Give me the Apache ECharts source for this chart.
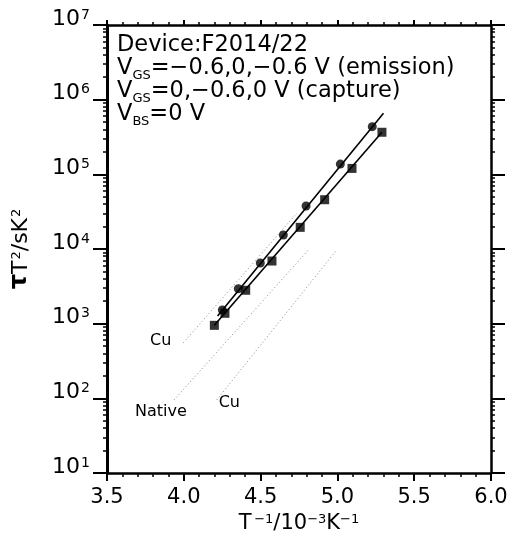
<!DOCTYPE html>
<html>
<head>
<meta charset="utf-8">
<script src="https://cdn.jsdelivr.net/npm/echarts@6/dist/echarts.min.js"></script>
<style>
  html, body { margin: 0; padding: 0; background: #fff; }
  #chart { width: 519px; height: 535px; }
</style>
</head>
<body>
<div id="chart"></div>
<script>
// Emission time constants (circles) and capture (squares), tau*T^2 vs 1/T
const emitX = [4.251, 4.355, 4.498, 4.648, 4.796, 5.019, 5.227];
const emitY = [1525, 2940, 6500, 15400, 37700, 137000, 435000];
const captX = [4.199, 4.268, 4.403, 4.574, 4.758, 4.917, 5.095, 5.290];
const captY = [950, 1377, 2800, 6900, 19500, 45700, 120000, 366000];

// Arrhenius fit lines through each set
const emitFitX = [4.22, 5.30];
const emitFitY = [1270, 660000];
const captFitX = [4.199, 5.29];
const captFitY = [950, 366000];

// Reference traps (dotted)
const cuUpperX = [3.997, 4.735];
const cuUpperY = [556, 30000];
const nativeX = [3.936, 4.811];
const nativeY = [95, 9700];
const cuLowerX = [4.214, 4.995];
const cuLowerY = [95, 9700];

// Axis ranges
const xTicks = [3.5, 4.0, 4.5, 5.0, 5.5, 6.0];
const yDecades = [10, 100, 1000, 10000, 100000, 1000000, 10000000];
const yMinor = [];
for (let k = 0; k < yDecades.length - 1; k++) {
  for (let m = 2; m <= 9; m++) yMinor.push(m * yDecades[k]);
}

const FONT = 'DejaVu Sans';
const pairs = (xs, ys) => xs.map((x, i) => [x, ys[i]]);

const chart = echarts.init(document.getElementById('chart'), null, { renderer: 'canvas' });

const supRich = {
  b: { fontFamily: FONT, fontSize: 22, color: '#000', verticalAlign: 'bottom', lineHeight: 22 },
  s: { fontFamily: FONT, fontSize: 14, color: '#000', verticalAlign: 'top', padding: [0, 0, 10, 1], lineHeight: 14 }
};

const xBase = {
  type: 'value', min: xTicks[0], max: xTicks[xTicks.length - 1], interval: 0.5,
  splitLine: { show: false }
};
const yBase = {
  type: 'log', logBase: 10, min: yDecades[0], max: yDecades[yDecades.length - 1],
  splitLine: { show: false }
};

// dotted reference line with a text tag at its lower end
function refLine(name, xs, ys, tag, labelOpt) {
  return {
    name: name, type: 'line',
    data: pairs(xs, ys).map((p, i) => i === 0
      ? { value: p, label: Object.assign({ show: true, formatter: tag }, labelOpt) }
      : p),
    symbol: 'circle', symbolSize: 0, showSymbol: true,
    itemStyle: { color: 'rgba(0,0,0,0)' },
    lineStyle: { color: '#888', width: 1, type: [1, 2.5] },
    label: { fontFamily: FONT, fontSize: 16, color: '#000' },
    emphasis: { disabled: true },
    z: 2
  };
}

const option = {
  animation: false,
  backgroundColor: '#fff',
  grid: { left: 107, right: 28, top: 25, bottom: 62, containLabel: false, outerBoundsMode: 'none' },
  title: {
    left: 112, top: 29,
    text: [
      '{t|Device:F2014/22}',
      '{t|V}{sub|GS}{t|=\u22120.6,0,\u22120.6 V (emission)}',
      '{t|V}{sub|GS}{t|=0,\u22120.6,0 V (capture)}',
      '{t|V}{sub|BS}{t|=0 V}'
    ].join('\n'),
    textStyle: {
      fontWeight: 'normal',
      rich: {
        t: { fontFamily: FONT, fontSize: 22.5, fontWeight: 'normal', color: '#000', lineHeight: 23, verticalAlign: 'bottom' },
        sub: { fontFamily: FONT, fontSize: 13, fontWeight: 'normal', color: '#000', lineHeight: 23, verticalAlign: 'bottom', padding: [0, 0, -2, 0] }
      }
    }
  },
  xAxis: [
    Object.assign({}, xBase, {
      position: 'bottom',
      axisLine: { show: true, lineStyle: { color: '#000', width: 2.5 } },
      axisTick: { show: true, length: 8, lineStyle: { color: '#000', width: 2 } },
      minorTick: { show: true, splitNumber: 5, length: 4, lineStyle: { color: '#000', width: 1.5 } },
      axisLabel: {
        margin: 14, fontFamily: FONT, fontSize: 21, color: '#000',
        formatter: v => v.toFixed(1)
      },
      name: '{t|T}{s|\u2009\u22121}{t|/10}{s|\u22123}{t|K}{s|\u22121}',
      nameLocation: 'middle', nameGap: 38,
      nameTextStyle: {
        rich: {
          t: { fontFamily: FONT, fontSize: 21, color: '#000', verticalAlign: 'bottom', lineHeight: 21 },
          s: { fontFamily: FONT, fontSize: 13, color: '#000', verticalAlign: 'top', padding: [0, 0, 9, 0], lineHeight: 13 }
        }
      }
    }),
    Object.assign({}, xBase, {
      position: 'top',
      axisLine: { show: true, lineStyle: { color: '#000', width: 2.5 } },
      axisTick: { show: true, length: 5, lineStyle: { color: '#000', width: 2 } },
      minorTick: { show: true, splitNumber: 5, length: 3, lineStyle: { color: '#000', width: 1.5 } },
      axisLabel: { show: false }
    })
  ],
  yAxis: [
    Object.assign({}, yBase, {
      position: 'left',
      axisLine: { show: true, lineStyle: { color: '#000', width: 3 } },
      axisTick: { show: true, length: 14, lineStyle: { color: '#000', width: 2 } },
      axisLabel: {
        margin: 17, padding: [0, 0, 12, 0],
        formatter: v => '{b|10}{s|' + Math.round(Math.log10(v)) + '}',
        rich: supRich
      },
      name: '{tau|\u03c4}{t|T}{s|2}{t|/sK}{s|2}',
      nameLocation: 'middle', nameGap: 75, nameRotate: 90,
      nameTextStyle: {
        rich: {
          tau: { fontFamily: FONT, fontSize: 24, fontWeight: 'bold', color: '#000', verticalAlign: 'bottom', lineHeight: 22 },
          t: { fontFamily: FONT, fontSize: 22, color: '#000', verticalAlign: 'bottom', lineHeight: 22 },
          s: { fontFamily: FONT, fontSize: 13, color: '#000', verticalAlign: 'top', padding: [0, 0, 10, 1], lineHeight: 13 }
        }
      }
    }),
    Object.assign({}, yBase, {
      position: 'left',
      axisLine: { show: false },
      axisTick: { show: true, length: 4, customValues: yMinor, lineStyle: { color: '#000', width: 1.5 } },
      axisLabel: { show: false }
    }),
    Object.assign({}, yBase, {
      position: 'right',
      axisLine: { show: true, lineStyle: { color: '#000', width: 2.5 } },
      axisTick: { show: true, length: 14, lineStyle: { color: '#000', width: 2 } },
      axisLabel: { show: false }
    }),
    Object.assign({}, yBase, {
      position: 'right',
      axisLine: { show: false },
      axisTick: { show: true, length: 4, customValues: yMinor, lineStyle: { color: '#000', width: 1.5 } },
      axisLabel: { show: false }
    })
  ],
  series: [
    {
      name: 'emission fit', type: 'line', data: pairs(emitFitX, emitFitY),
      symbol: 'none', lineStyle: { color: '#000', width: 1.6 }, z: 3
    },
    {
      name: 'capture fit', type: 'line', data: pairs(captFitX, captFitY),
      symbol: 'none', lineStyle: { color: '#000', width: 1.6 }, z: 3
    },
    {
      name: 'emission', type: 'scatter', data: pairs(emitX, emitY),
      symbol: 'circle', symbolSize: 9, itemStyle: { color: '#000' }, z: 4
    },
    {
      name: 'capture', type: 'scatter', data: pairs(captX, captY),
      symbol: 'rect', symbolSize: 9, itemStyle: { color: '#000' }, z: 4
    },
    refLine('Cu (upper)', cuUpperX, cuUpperY, 'Cu', { position: 'left', distance: 12, offset: [0, -2] }),
    refLine('Native', nativeX, nativeY, 'Native', { position: 'bottom', distance: 4, offset: [-13, 0] }),
    refLine('Cu (lower)', cuLowerX, cuLowerY, 'Cu', { position: 'right', distance: 2, offset: [0, 3] })
  ]
};

// attach each series to the primary axes
option.series.forEach(s => { s.xAxisIndex = 0; s.yAxisIndex = 0; });

chart.setOption(option);
</script>
</body>
</html>
